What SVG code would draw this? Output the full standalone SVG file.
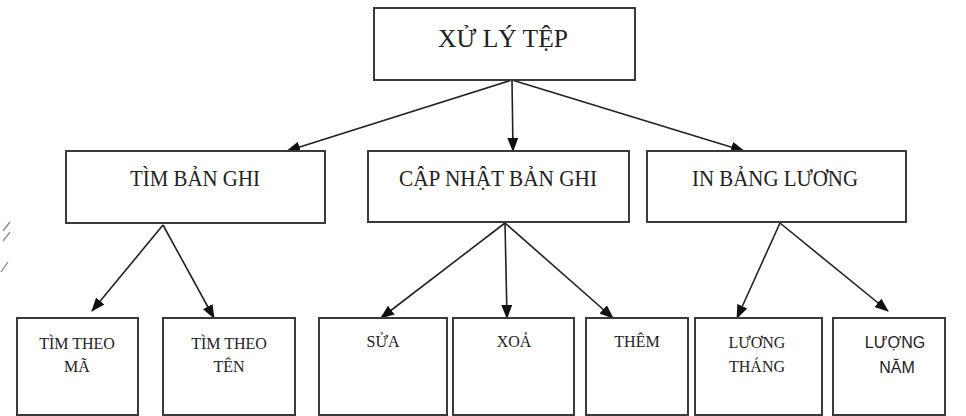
<svg xmlns="http://www.w3.org/2000/svg" width="966" height="416" viewBox="0 0 966 416">
  <style>
    .box { fill: #ffffff; stroke: #3a3a3a; stroke-width: 2; }
    .lbl { font-family: "Liberation Serif", "Times New Roman", serif; fill: #222; text-anchor: middle; }
    .big { font-size: 25px; }
    .mid { font-size: 23px; }
    .sm { font-size: 16px; }
    .sans { font-family: "Liberation Sans", Arial, sans-serif; font-size: 16px; fill: #222; text-anchor: middle; }
    .edge { stroke: #222; stroke-width: 1.6; fill: none; marker-end: url(#arrow); }
    .mark { stroke: #8a8a8a; stroke-width: 1.3; fill: none; }
  </style>
  <defs>
    <marker id="arrow" viewBox="0 0 14 11" refX="13" refY="5.5" markerWidth="14" markerHeight="11" markerUnits="userSpaceOnUse" orient="auto">
      <path d="M0,0 L14,5.5 L0,11 Z" fill="#111"/>
    </marker>
  </defs>

  <rect width="966" height="416" fill="#ffffff"/>

  <!-- faint strokes on the left margin -->
  <g id="margin-marks">
    <path class="mark" d="M3,231 L10,222"/>
    <path class="mark" d="M3,241 L10,232"/>
    <path class="mark" d="M1,272 L8,262"/>
  </g>

  <!-- connectors -->
  <g id="connectors">
    <line class="edge" x1="512" y1="80" x2="287" y2="151"/>
    <line class="edge" x1="512" y1="80" x2="513" y2="151"/>
    <line class="edge" x1="512" y1="80" x2="744" y2="151"/>

    <line class="edge" x1="163" y1="225" x2="92" y2="311"/>
    <line class="edge" x1="163" y1="225" x2="214" y2="318"/>

    <line class="edge" x1="505" y1="223" x2="381" y2="318"/>
    <line class="edge" x1="505" y1="223" x2="507" y2="318"/>
    <line class="edge" x1="505" y1="223" x2="613" y2="318"/>

    <line class="edge" x1="780" y1="223" x2="737" y2="318"/>
    <line class="edge" x1="780" y1="223" x2="888" y2="311"/>
  </g>

  <!-- top level -->
  <g id="xu-ly-tep">
    <rect class="box" x="374" y="8" width="261" height="72"/>
    <text class="lbl big" x="503" y="47" textLength="130" lengthAdjust="spacingAndGlyphs">XỬ LÝ TỆP</text>
  </g>

  <!-- second level -->
  <g id="tim-ban-ghi">
    <rect class="box" x="66" y="151" width="259" height="72"/>
    <text class="lbl mid" x="195" y="186" textLength="130" lengthAdjust="spacingAndGlyphs">TÌM BẢN GHI</text>
  </g>
  <g id="cap-nhat-ban-ghi">
    <rect class="box" x="368" y="151" width="261" height="71"/>
    <text class="lbl mid" x="498" y="186" textLength="198" lengthAdjust="spacingAndGlyphs">CẬP NHẬT BẢN GHI</text>
  </g>
  <g id="in-bang-luong">
    <rect class="box" x="647" y="151" width="259" height="71"/>
    <text class="lbl mid" x="775" y="186" textLength="166" lengthAdjust="spacingAndGlyphs">IN BẢNG LƯƠNG</text>
  </g>

  <!-- third level -->
  <g id="tim-theo-ma">
    <rect class="box" x="17" y="318" width="121" height="97"/>
    <text class="lbl sm" x="77" y="349">TÌM THEO</text>
    <text class="lbl sm" x="77" y="372">MÃ</text>
  </g>
  <g id="tim-theo-ten">
    <rect class="box" x="163" y="318" width="132" height="97"/>
    <text class="lbl sm" x="229" y="349">TÌM THEO</text>
    <text class="lbl sm" x="229" y="372">TÊN</text>
  </g>
  <g id="sua">
    <rect class="box" x="319" y="318" width="128" height="97"/>
    <text class="lbl sm" x="383" y="347">SỬA</text>
  </g>
  <g id="xoa">
    <rect class="box" x="453" y="318" width="121" height="97"/>
    <text class="lbl sm" x="514" y="347">XOẢ</text>
  </g>
  <g id="them">
    <rect class="box" x="586" y="318" width="102" height="97"/>
    <text class="lbl sm" x="637" y="347">THÊM</text>
  </g>
  <g id="luong-thang">
    <rect class="box" x="695" y="318" width="127" height="97"/>
    <text class="lbl sm" x="757" y="348">LƯƠNG</text>
    <text class="lbl sm" x="757" y="372">THÁNG</text>
  </g>
  <g id="luong-nam">
    <rect class="box" x="833" y="318" width="112" height="97"/>
    <text class="sans" x="895" y="348">LƯỢNG</text>
    <text class="sans" x="897" y="373">NĂM</text>
  </g>
</svg>
